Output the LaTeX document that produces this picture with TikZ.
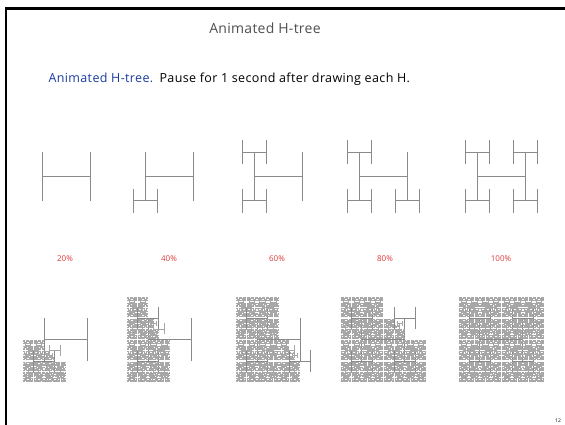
\documentclass[tikz,border=0pt]{standalone}
\usepackage{fontspec}
\setmainfont{Open Sans}
\definecolor{titlegray}{HTML}{505050}
\definecolor{subblue}{HTML}{1A3CA0}
\definecolor{pctred}{HTML}{E03A3A}
\definecolor{hgray}{HTML}{8A8A8A}
\newcount\hcnt
\def\htree#1#2#3#4{%
 \ifnum#1>0 \ifnum\hcnt>0
  \global\advance\hcnt by -1
  \begingroup
  \pgfmathsetmacro\hs{#2/2}%
  \pgfmathsetmacro\xa{#3-\hs}\pgfmathsetmacro\xb{#3+\hs}%
  \pgfmathsetmacro\ya{#4-\hs}\pgfmathsetmacro\yb{#4+\hs}%
  \ifdim #2pt<12pt \def\hst{hthin}\else\def\hst{hline}\fi
  \draw[\hst] (\xa,\ya)--(\xa,\yb) (\xa,#4)--(\xb,#4) (\xb,\ya)--(\xb,\yb);
  \edef\next{%
   \noexpand\htree{\the\numexpr#1-1\relax}{\hs}{\xa}{\ya}%
   \noexpand\htree{\the\numexpr#1-1\relax}{\hs}{\xa}{\yb}%
   \noexpand\htree{\the\numexpr#1-1\relax}{\hs}{\xb}{\ya}%
   \noexpand\htree{\the\numexpr#1-1\relax}{\hs}{\xb}{\yb}}%
  \next
  \endgroup
 \fi\fi}
\begin{document}
\begin{tikzpicture}[x=1pt,y=1pt,
  hline/.style={draw=hgray,line width=0.75pt},
  hthin/.style={draw=hgray!75,line width=0.4pt},
  pct/.style={text=pctred,font=\fontsize{8}{9}\selectfont,anchor=center},
  frameline/.style={fill=black}]
\useasboundingbox[fill=white] (0,0) rectangle (565,-425);
% frame
\fill[frameline] (5,-6.7) rectangle (565,-10);
\fill[frameline] (5,-6.7) rectangle (7.3,-425);
% title
\node[text=titlegray,font=\fontsize{14}{16}\selectfont\addfontfeature{LetterSpace=2},anchor=base] (title) at (265,-34) {Animated H-tree};
\node[anchor=base west,font=\fontsize{12.5}{15}\selectfont\addfontfeature{LetterSpace=3}] (sub) at (45,-82.5)
  {\textcolor{subblue}{Animated H-tree.}\hspace{0.5em}Pause for 1 second after drawing each H.};
% top row
\foreach \cx/\n in {66.5/1,169.3/2,278.5/3,383.3/4,501.7/5}{
  \global\hcnt=\n\relax
  \htree{2}{48}{\cx}{-176.5}
}
% labels
\node[pct] (p20) at (65,-259) {20\%};
\node[pct] (p40) at (169,-259) {40\%};
\node[pct] (p60) at (277,-259) {60\%};
\node[pct] (p80) at (385,-259) {80\%};
\node[pct] (p100) at (501,-259) {100\%};
% bottom row
\foreach \cx/\n in {65.5/273,169.5/546,278.5/819,383.3/1092,501.2/1365}{
  \global\hcnt=\n\relax
  \htree{6}{43}{\cx}{-339.5}
}
\node[font=\fontsize{5}{6}\selectfont,anchor=center] (pg) at (558,-421) {12};
\end{tikzpicture}
\end{document}
